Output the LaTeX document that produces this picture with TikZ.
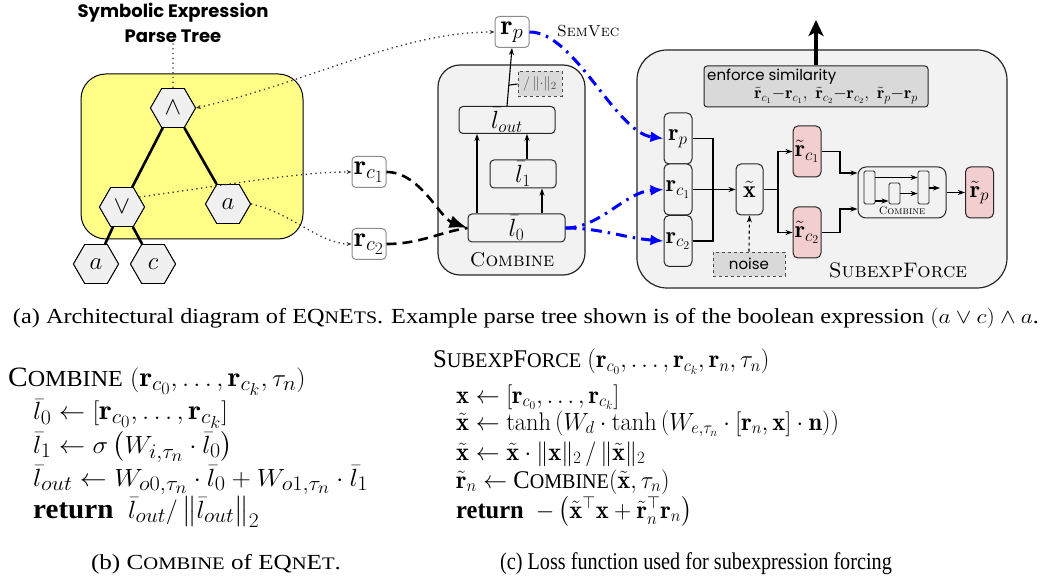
\documentclass[tikz,border=0pt]{standalone}
\usepackage{fontspec}
\usepackage{amsmath}
\usepackage{graphicx}
\newfontfamily\tnr{Liberation Serif}
\newfontfamily\pop{Poppins}
\usetikzlibrary{shapes.geometric,arrows.meta,calc}

\definecolor{treeyellow}{RGB}{255,255,136}
\definecolor{hexgray}{RGB}{240,240,240}
\definecolor{boxgray}{RGB}{242,242,242}
\definecolor{enfgray}{RGB}{217,217,217}
\definecolor{pinkbox}{RGB}{242,206,206}
\definecolor{semblue}{RGB}{0,0,255}

\DeclareMathSizes{28}{28}{21}{16}

% fake small caps for the Times-like text face
\newcommand\tsc[2]{#1\scalebox{0.82}{#2}}
% horizontal stretch of a line of text
\newcommand\sq[2]{\scalebox{#1}[1]{#2}}

\begin{document}
\begin{tikzpicture}[x=1pt,y=1pt,
  hexn/.style={regular polygon, regular polygon sides=6, minimum size=45pt,
    inner sep=0pt, draw=black, line width=0.9pt, fill=hexgray,
    font=\fontsize{27}{27}\selectfont},
  rbox/.style={draw=black!45, rounded corners=4pt, fill=white, line width=1pt,
    inner sep=0pt, minimum width=34pt, minimum height=31pt,
    font=\fontsize{28}{28}\selectfont},
  lbox/.style={draw=black!85, rounded corners=4pt, fill=boxgray, line width=1pt,
    inner sep=0pt, minimum height=27pt, font=\fontsize{24}{24}\selectfont},
  sbox/.style={draw=black!85, rounded corners=5pt, fill=boxgray, line width=1pt,
    inner sep=0pt, minimum width=28pt, minimum height=51pt,
    font=\fontsize{24}{24}\selectfont},
  tinybox/.style={draw=black!85, rounded corners=1.5pt, fill=boxgray, line width=0.9pt,
    inner sep=0pt, minimum width=11pt},
  arr/.style={line width=1.1pt, -{Stealth[length=7pt,width=5pt]}},
  plain/.style={line width=1.1pt},
  treedot/.style={line width=1.3pt, black!80, dash pattern=on 1.3pt off 3.5pt},
  bdash/.style={line width=2.6pt, dash pattern=on 10pt off 6pt},
  blued/.style={line width=3pt, semblue, dash pattern=on 11pt off 6pt on 2.5pt off 6pt},
  algob/.style={anchor=base west, inner sep=0pt, font=\tnr\fontsize{28}{30}\selectfont},
  algoc/.style={anchor=base west, inner sep=0pt, font=\tnr\fontsize{25.5}{28}\selectfont},
  capt/.style={anchor=base, inner sep=0pt, font=\tnr\fontsize{21.5}{24}\selectfont},
]
\useasboundingbox (0,0) rectangle (1042,-577);

% ---------- parse tree ----------
\node[anchor=base, inner sep=0pt, font=\pop\bfseries\fontsize{18}{18}\selectfont] (title1) at (173,-18) {Symbolic Expression};
\node[anchor=base, inner sep=0pt, font=\pop\bfseries\fontsize{18}{18}\selectfont] (title2) at (173,-43) {Parse Tree};
\draw[line width=1pt, fill=treeyellow, rounded corners=25pt] (81,-74) rectangle (303,-239);

\node[hexn] (hand) at (173,-108) {$\wedge$};
\node[hexn] (hor)  at (122,-207) {$\vee$};
\node[hexn] (ha1)  at (228,-204) {$a$};
\node[hexn] (ha2)  at (96,-264)  {$a$};
\node[hexn] (hc)   at (153,-264) {$c$};

\draw[treedot] (title2.south) -- (hand.north);
\draw[line width=2.6pt] (hand) -- (hor);
\draw[line width=2.6pt] (hand) -- (ha1);
\draw[line width=2.6pt] (hor) -- (ha2);
\draw[line width=2.6pt] (hor) -- (hc);
% redraw the nodes on top of their edges
\node[hexn] at (hor) {$\vee$};
\node[hexn] at (ha2) {$a$};
\node[hexn] at (hc) {$c$};
\node[hexn] at (hand) {$\wedge$};
\node[hexn] at (ha1) {$a$};

% ---------- embeddings ----------
\node[rbox] (rp)  at (512,-32)  {$\mathbf r_p$};
\node[rbox] (rc1) at (369,-172) {$\mathbf r_{c_1}$};
\node[rbox] (rc2) at (369,-244) {$\mathbf r_{c_2}$};
\node[anchor=base west, inner sep=0pt, font=\scshape\fontsize{16}{16}\selectfont] (semvec) at (557,-37) {SemVec};

\draw[treedot, {Stealth[length=5pt,width=4pt]}-{Stealth[length=5pt,width=4pt]}]
  (hand.east) .. controls (310,-82) and (400,-32) .. (rp.west);
\draw[treedot, -{Stealth[length=5pt,width=4pt]}]
  (hor.30) .. controls (240,-183) and (300,-172) .. (rc1.west);
\draw[treedot, -{Stealth[length=5pt,width=4pt]}]
  (ha1.east) .. controls (290,-212) and (320,-244) .. (rc2.west);

% ---------- Combine ----------
\node[draw=black!85, fill=boxgray, line width=1.2pt, rounded corners=22pt,
  minimum width=147pt, minimum height=210pt] (comb) at (511.5,-170) {};
\node[lbox, minimum width=96pt] (lout) at (507,-120) {$\bar l_{out}$};
\node[lbox, minimum width=66pt, minimum height=28pt] (l1) at (523,-174) {$\bar l_1$};
\node[lbox, minimum width=97pt, minimum height=28pt] (l0) at (516.5,-228) {$\bar l_0$};
\node[draw=black!70, dashed, fill=enfgray, line width=0.9pt, inner sep=0pt,
  minimum width=44pt, minimum height=25pt, text=black!70,
  font=\fontsize{15}{15}\selectfont] (nrm) at (540,-84) {$/\,\|{\cdot}\|_2$};
\node[anchor=base, inner sep=0pt, font=\scshape\fontsize{20}{20}\selectfont] (comblab) at (512,-267) {Combine};

\draw[arr] ([xshift=-39.5pt]l0.north) -- ([xshift=-39.5pt]l0.north |- lout.south);
\draw[arr] ([xshift=25.5pt]l0.north) -- ([xshift=25.5pt]l0.north |- l1.south);
\draw[arr] ([xshift=4pt]l1.north) -- ([xshift=4pt]l1.north |- lout.south);
\draw[arr] (lout.north) -- (rp.south);
\draw[plain] ($(lout.north)!0.36!(rp.south)$) -- (nrm.west);

\draw[bdash, -{Latex[length=18pt,width=13pt]}]
  (rc1.east) .. controls (420,-172) and (440,-218) .. (l0.west);
\draw[bdash] (rc2.east) .. controls (420,-244) and (440,-232) .. (l0.west);

% ---------- SubexpForce ----------
\node[draw=black!85, fill=boxgray, line width=1.2pt, rounded corners=30pt,
  minimum width=370pt, minimum height=238pt] (sf) at (822,-169) {};
\node[draw=black!85, fill=enfgray, line width=1pt, rounded corners=3pt,
  minimum width=224pt, minimum height=41pt] (enf) at (816,-86.5) {};
\node[anchor=base west, inner sep=0pt, font=\pop\fontsize{15}{15}\selectfont] (enft) at (707,-81) {enforce similarity};
\node[anchor=base east, inner sep=0pt, font=\fontsize{17}{17}\selectfont] (enfm) at (918,-99)
  {$\tilde{\mathbf r}_{c_1}{-}\mathbf r_{c_1},\ \tilde{\mathbf r}_{c_2}{-}\mathbf r_{c_2},\ \tilde{\mathbf r}_p{-}\mathbf r_p$};
\coordinate (up) at (816,-20);
\draw[line width=3.5pt, -{Stealth[length=16pt,width=15pt,inset=4pt]}] (enf.north) -- (up);

\node[sbox] (sp)  at (678,-138.5) {$\mathbf r_p$};
\node[sbox] (sc1) at (678,-189.5) {$\mathbf r_{c_1}$};
\node[sbox] (sc2) at (678,-241)   {$\mathbf r_{c_2}$};
\node[sbox, minimum width=27pt] (xt) at (749.5,-189.5) {$\tilde{\mathbf x}$};
\node[draw=black!70, dashed, fill=enfgray, line width=0.9pt, inner sep=0pt,
  minimum width=72pt, minimum height=24pt, font=\pop\fontsize{15}{15}\selectfont] (noise) at (749,-264) {noise};
\node[sbox, fill=pinkbox] (tc1) at (807,-151.5) {$\tilde{\mathbf r}_{c_1}$};
\node[sbox, fill=pinkbox] (tc2) at (807,-232.5) {$\tilde{\mathbf r}_{c_2}$};
\node[draw=black!85, fill=boxgray, line width=1pt, rounded corners=8pt,
  minimum width=88pt, minimum height=51pt] (mc) at (902,-192.5) {};
\node[tinybox, minimum height=33pt] (m1) at (869.5,-187.5) {};
\node[tinybox, minimum height=21pt] (m2) at (894.5,-193.5) {};
\node[tinybox, minimum height=33pt] (m3) at (923.5,-187.5) {};
\node[anchor=base, inner sep=0pt, font=\scshape\fontsize{11}{11}\selectfont] (mclab) at (902,-215) {Combine};
\node[sbox, fill=pinkbox] (tp) at (979.5,-192.5) {$\tilde{\mathbf r}_p$};
\node[anchor=base, inner sep=0pt, font=\scshape\fontsize{21}{21}\selectfont] (sflab) at (898,-278) {SubexpForce};

\coordinate (j1) at (713,-189.5);
\draw[plain] (sp.east) -| (j1);
\draw[plain] (sc2.east) -| (j1);
\draw[arr] (sc1.east) -- (xt.west);
\draw[arr, dashed] (noise.north) -- (xt.south);
\coordinate (j2) at (778,-189.5);
\draw[plain] (xt.east) -- (j2);
\draw[arr] (j2) |- (tc1.west);
\draw[arr] (j2) |- (tc2.west);
\coordinate (k1) at (840,-173);
\coordinate (k2) at (840,-209);
\draw[arr] (tc1.east) -| (k1) -- (k1 -| mc.west);
\draw[arr] (tc2.east) -| (k2) -- (k2 -| mc.west);
\draw[arr] ([yshift=10pt]m1.east) -- ([yshift=10pt]m1.east -| m3.west);
\draw[arr] ([yshift=-13.5pt]m1.east) -- ([yshift=-13.5pt]m1.east -| m2.west);
\draw[arr] (m2.east) -- (m2.east -| m3.west);
\coordinate (mout) at (940,-188);
\draw[arr] ([yshift=-0.5pt]m3.east) -- (mout);
\draw[arr] (mc.east) -- (tp.west);

% SemVec links
\draw[blued, -{Latex[length=13pt,width=11pt]}] (rp.east) .. controls (575,-32) and (615,-132) .. (sp.west);
\draw[blued, -{Latex[length=13pt,width=11pt]}] (l0.east) .. controls (600,-228) and (625,-192) .. (sc1.west);
\draw[blued, -{Latex[length=13pt,width=11pt]}] (l0.east) .. controls (600,-228) and (625,-238) .. (sc2.west);

% ---------- captions and algorithms ----------
\node[capt] (capa) at (526,-324)
  {\sq{1.13}{(a) Architectural diagram of E\tsc{Q}{N}\tsc{E}{TS}. Example parse tree shown is of the boolean expression $(a\vee c)\wedge a$.}};

\node[algob] (b1) at (8,-387) {\sq{1.05}{\tsc{C}{OMBINE} $(\mathbf r_{c_0},\ldots,\mathbf r_{c_k},\tau_n)$}};
\node[algob] (b2) at (33,-420) {\sq{1.06}{$\bar l_0\leftarrow[\mathbf r_{c_0},\ldots,\mathbf r_{c_k}]$}};
\node[algob] (b3) at (33,-453) {\sq{1.06}{$\bar l_1\leftarrow\sigma\left(W_{i,\tau_n}\cdot\bar l_0\right)$}};
\node[algob] (b4) at (33,-486) {\sq{1.08}{$\bar l_{out}\leftarrow W_{o0,\tau_n}\cdot\bar l_0+W_{o1,\tau_n}\cdot\bar l_1$}};
\node[algob] (b5) at (33,-518) {\sq{1.04}{\textbf{return}\ \ $\bar l_{out}/\left\|\bar l_{out}\right\|_2$}};
\node[capt] (capb) at (216,-569)
  {\sq{1.17}{(b) \tsc{C}{OMBINE} of E\tsc{Q}{N}\tsc{E}{T}.}};

\node[algoc] (c1) at (433,-368) {\sq{0.97}{\tsc{S}{UBEXP}\tsc{F}{ORCE} $(\mathbf r_{c_0},\ldots,\mathbf r_{c_k},\mathbf r_n,\tau_n)$}};
\node[algoc] (c2) at (456,-403) {\sq{0.96}{$\mathbf x\leftarrow[\mathbf r_{c_0},\ldots,\mathbf r_{c_k}]$}};
\node[algoc] (c3) at (456,-430) {\sq{0.96}{$\tilde{\mathbf x}\leftarrow\tanh\left(W_d\cdot\tanh\left(W_{e,\tau_n}\cdot[\mathbf r_n,\mathbf x]\cdot\mathbf n\right)\right)$}};
\node[algoc] (c4) at (456,-460) {\sq{0.96}{$\tilde{\mathbf x}\leftarrow\tilde{\mathbf x}\cdot\|\mathbf x\|_2\,/\,\|\tilde{\mathbf x}\|_2$}};
\node[algoc] (c5) at (456,-488) {\sq{0.96}{$\tilde{\mathbf r}_n\leftarrow$ \tsc{C}{OMBINE}$(\tilde{\mathbf x},\tau_n)$}};
\node[algoc] (c6) at (456,-518) {\sq{0.96}{\textbf{return}\ \ $-\left(\tilde{\mathbf x}^\top\mathbf x+\tilde{\mathbf r}_n^\top\mathbf r_n\right)$}};
\node[anchor=base, inner sep=0pt, font=\tnr\fontsize{24}{26}\selectfont] (capc) at (696,-569)
  {\sq{0.842}{(c) Loss function used for subexpression forcing}};
\end{tikzpicture}
\end{document}
